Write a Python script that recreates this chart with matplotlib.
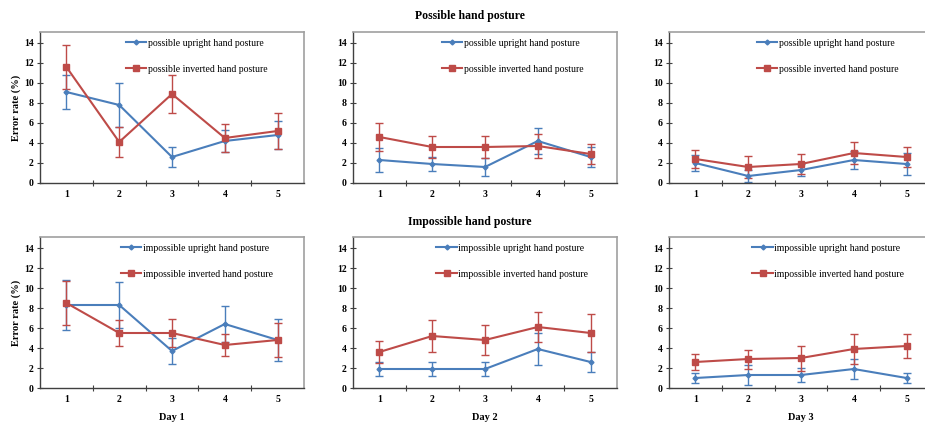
import matplotlib
matplotlib.use("Agg")
import matplotlib.pyplot as plt
import numpy as np

plt.rcParams['font.family'] = ['Liberation Serif', 'DejaVu Serif']

sessions = [1, 2, 3, 4, 5]
days = ["Day 1", "Day 2", "Day 3"]
yticks = [0, 2, 4, 6, 8, 10, 12, 14]

# possible hand posture (top row), per day
poss_up_mean = [[9.1, 7.8, 2.6, 4.2, 4.8], [2.3, 1.9, 1.6, 4.2, 2.6], [2.0, 0.7, 1.3, 2.3, 1.9]]
poss_up_err = [[1.7, 2.2, 1.0, 1.1, 1.4], [1.2, 0.7, 0.9, 1.3, 1.0], [0.8, 0.6, 0.6, 0.9, 1.1]]
poss_inv_mean = [[11.6, 4.1, 8.9, 4.5, 5.2], [4.6, 3.6, 3.6, 3.7, 2.9], [2.4, 1.6, 1.9, 3.0, 2.6]]
poss_inv_err = [[2.2, 1.5, 1.9, 1.4, 1.8], [1.4, 1.1, 1.1, 1.2, 1.0], [0.9, 1.1, 1.0, 1.1, 1.0]]

# impossible hand posture (bottom row), per day
imp_up_mean = [[8.3, 8.3, 3.7, 6.4, 4.8], [1.9, 1.9, 1.9, 3.9, 2.6], [1.0, 1.3, 1.3, 1.9, 1.0]]
imp_up_err = [[2.5, 2.3, 1.3, 1.8, 2.1], [0.7, 0.7, 0.7, 1.6, 1.0], [0.5, 1.0, 0.7, 1.0, 0.5]]
imp_inv_mean = [[8.5, 5.5, 5.5, 4.3, 4.8], [3.6, 5.2, 4.8, 6.1, 5.5], [2.6, 2.9, 3.0, 3.9, 4.2]]
imp_inv_err = [[2.2, 1.3, 1.4, 1.1, 1.7], [1.1, 1.6, 1.5, 1.5, 1.9], [0.8, 0.95, 1.25, 1.5, 1.2]]

BLUE = '#4a7ebb'
RED = '#be4b48'

W, H = 925, 424
fig = plt.figure(figsize=(W / 100, H / 100), dpi=100)

lefts = [40, 353, 669]
width_px = 264
rows = [(32, 183), (237, 388)]
legend_x = [[0.32, 0.33, 0.327], [0.30, 0.31, 0.31]]

for r, (top, bot) in enumerate(rows):
    for c in range(3):
        ax = fig.add_axes([lefts[c] / W, (H - bot) / H, width_px / W, (bot - top) / H])
        if r == 0:
            um, ue, im, ie = poss_up_mean[c], poss_up_err[c], poss_inv_mean[c], poss_inv_err[c]
            lab_u, lab_i = "possible upright hand posture", "possible inverted hand posture"
        else:
            um, ue, im, ie = imp_up_mean[c], imp_up_err[c], imp_inv_mean[c], imp_inv_err[c]
            lab_u, lab_i = "impossible upright hand posture", "impossible inverted hand posture"
        ax.errorbar(sessions, um, yerr=ue, color=BLUE, lw=0, elinewidth=1.0,
                    capsize=2.8, capthick=1.0, fmt='none', zorder=2)
        ax.errorbar(sessions, im, yerr=ie, color=RED, lw=0, elinewidth=1.0,
                    capsize=2.8, capthick=1.0, fmt='none', zorder=2)
        ax.plot(sessions, um, color=BLUE, lw=1.5, marker='D', ms=2.5, label=lab_u, zorder=3)
        ax.plot(sessions, im, color=RED, lw=1.5, marker='s', ms=5, label=lab_i, zorder=3)
        ax.set_xlim(0.5, 5.5)
        ax.set_ylim(0, 15.1)
        ax.set_yticks(yticks)
        ax.set_yticklabels([str(t) for t in yticks], fontweight='bold', fontsize=7)
        ax.set_xticks([1.5, 2.5, 3.5, 4.5])
        ax.set_xticklabels([])
        ax.set_xticks(sessions, minor=True)
        ax.set_xticklabels([str(s) for s in sessions], minor=True, fontweight='bold', fontsize=7)
        ax.tick_params(axis='x', which='major', direction='inout', length=5, width=0.8, color='#404040')
        ax.tick_params(axis='x', which='minor', length=0, pad=5)
        ax.tick_params(axis='y', direction='inout', length=5, width=0.8, color='#404040', pad=2)
        for s in ['left', 'bottom']:
            ax.spines[s].set_color('#404040')
            ax.spines[s].set_linewidth(1.0)
        for s in ['top', 'right']:
            ax.spines[s].set_color('#a0a0a0')
            ax.spines[s].set_linewidth(1.2)
        ax.legend(loc='upper left', bbox_to_anchor=(legend_x[r][c] - 0.02, 1.0),
                  frameon=False, fontsize=7, handlelength=2.1, handletextpad=0.15,
                  labelspacing=1.75, borderaxespad=0.3)
        if c == 0:
            ax.set_ylabel("Error rate (%)", fontweight='bold', fontsize=7.5, labelpad=2)
        if r == 1:
            cx = (lefts[c] + width_px / 2) / W
            fig.text(cx, 1 - 418 / H, days[c], ha='center', va='center',
                     fontweight='bold', fontsize=7.5)

fig.text(470 / W, 1 - 16 / H, "Possible hand posture", ha='center', va='center',
         fontweight='bold', fontsize=8.5)
fig.text(470 / W, 1 - 222 / H, "Impossible hand posture", ha='center', va='center',
         fontweight='bold', fontsize=8.5)

fig.savefig("out.png", dpi=100)
